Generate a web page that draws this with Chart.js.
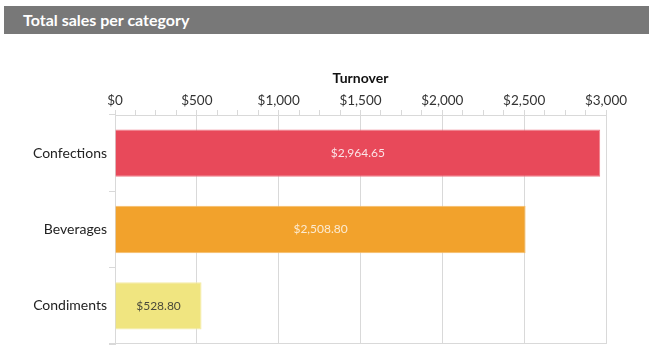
<!DOCTYPE html>
<html>
<head>
<meta charset="utf-8">
<script src="https://cdn.jsdelivr.net/npm/chart.js@4"></script>
<style>
    html, body { margin: 0; padding: 0; background: #ffffff; }
    body { width: 649px; height: 345px; position: relative; overflow: hidden; font-family: Lato, sans-serif; }
    .header {
        position: absolute; left: 4px; top: 6px; width: 645px; height: 28px;
        background: #787878; color: #ffffff; font-weight: bold; font-size: 16px;
        line-height: 28px; padding-left: 19px; box-sizing: border-box; z-index: 1;
    }
    #salesChart { position: absolute; left: 0; top: 0; }
</style>
</head>
<body>
<div class="header">Total sales per category</div>
<canvas id="salesChart" width="649" height="345"></canvas>
<script>
const categories = ['Confections', 'Beverages', 'Condiments'];
const turnover = [2964.65, 2508.80, 528.80];
const barColors = ['#E8495A', '#F2A22C', '#F0E580'];
const barEdges = ['#F07A86', '#F6BC66', '#F4EBA6'];
const labelColors = ['#FBE3E6', '#FCEBD2', '#4A4A3A'];

const gridColor = '#D9D9D9';

function money(value, decimals) {
    return '$' + value.toLocaleString('en-US', {
        minimumFractionDigits: decimals,
        maximumFractionDigits: decimals
    });
}

// value text in the middle of each bar, plus the bottom edge of the plot
const valueLabels = {
    id: 'valueLabels',
    afterDatasetsDraw(chart) {
        const ctx = chart.ctx;
        const meta = chart.getDatasetMeta(0);
        ctx.save();
        ctx.font = '12px Lato';
        ctx.textAlign = 'center';
        ctx.textBaseline = 'middle';
        meta.data.forEach((bar, i) => {
            ctx.fillStyle = labelColors[i];
            ctx.fillText(money(turnover[i], 2), (bar.x + bar.base) / 2, bar.y);
        });
        const area = chart.chartArea;
        ctx.strokeStyle = gridColor;
        ctx.lineWidth = 1;
        ctx.beginPath();
        ctx.moveTo(area.left - 6, Math.round(area.bottom) - 0.5);
        ctx.lineTo(area.right, Math.round(area.bottom) - 0.5);
        ctx.stroke();
        ctx.restore();
    }
};

const salesChart = new Chart(document.getElementById('salesChart'), {
    type: 'bar',
    data: {
        labels: categories,
        datasets: [{
            label: 'Turnover',
            data: turnover,
            backgroundColor: barColors,
            borderColor: barEdges,
            borderWidth: 1,
            barPercentage: 0.62,
            categoryPercentage: 1
        }]
    },
    options: {
        indexAxis: 'y',
        responsive: false,
        animation: false,
        layout: {
            padding: { top: 70, right: 43, bottom: 1, left: 0 }
        },
        scales: {
            x: {
                position: 'top',
                min: 0,
                max: 3000,
                afterFit: scale => { scale.height = 45; },
                title: {
                    display: true,
                    text: 'Turnover',
                    color: '#111111',
                    font: { family: 'Lato', size: 14, weight: 'bold' },
                    padding: { top: 0, bottom: 0 }
                },
                ticks: {
                    stepSize: 125,
                    autoSkip: false,
                    maxRotation: 0,
                    padding: 1,
                    color: '#333333',
                    font: { family: 'Lato', size: 13.5 },
                    callback: value => value % 500 === 0 ? money(value, 0) : ''
                },
                grid: {
                    color: ctx => ctx.tick && ctx.tick.value % 500 === 0 ? gridColor : 'rgba(0,0,0,0)',
                    tickColor: gridColor,
                    tickLength: 5
                },
                border: { color: gridColor }
            },
            y: {
                afterFit: scale => {
                    scale.width = 115;
                    scale.paddingTop = 0;
                    scale.paddingBottom = 0;
                },
                ticks: {
                    padding: 2,
                    color: '#222222',
                    font: { family: 'Lato', size: 14 }
                },
                grid: {
                    drawOnChartArea: false,
                    color: gridColor,
                    tickLength: 6
                },
                border: { color: gridColor }
            }
        },
        plugins: {
            legend: { display: false },
            tooltip: { enabled: false }
        }
    },
    plugins: [valueLabels]
});
</script>
</body>
</html>
